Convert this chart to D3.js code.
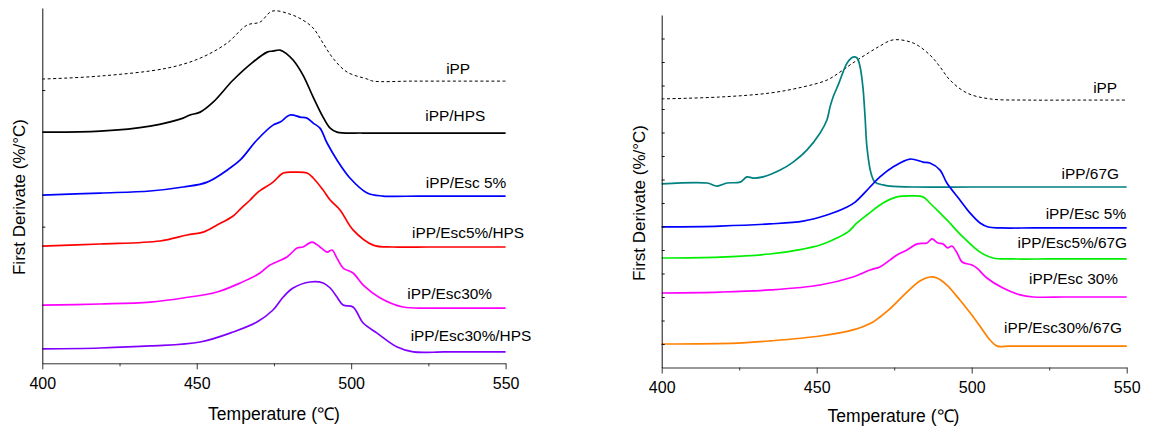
<!DOCTYPE html>
<html>
<head>
<meta charset="utf-8">
<script src="https://cdn.jsdelivr.net/npm/d3@7"></script>
<style>
  body { margin: 0; background: #fff; }
  svg { display: block; }
  text { font-family: "Liberation Sans", Arial, Helvetica, sans-serif; fill: #000; }
</style>
</head>
<body>
<svg id="chart" width="1150" height="430"></svg>
<script>
// ---- shared axis values ----
const xTickValues = [400, 450, 500, 550];
const xMinorValues = [425, 475, 525];
const xTitle = "Temperature (\u2103)";
const yTitle = "First Derivate (%/\u00B0C)";

// ---- left panel: iPP, HPS and Esc blends (DTG, curves stacked) ----
const leftNames = ["iPP", "iPP/HPS", "iPP/Esc 5%", "iPP/Esc5%/HPS", "iPP/Esc30%", "iPP/Esc30%/HPS"];
const leftYMax = 2.6;
const leftYTicks = [1, 2];

const L_iPP = [[400,2.080],[418.7,2.102],[440.4,2.160],[451.1,2.233],[459.8,2.343],[466.3,2.475],[470.5,2.497],
  [474.4,2.577],[480.2,2.555],[484.4,2.511],[487.7,2.453],[490.9,2.343],[494.1,2.233],[498.7,2.131],[505.2,2.080],
  [507.1,2.065],[520,2.065],[535,2.065],[550,2.065]];
const L_HPS = [[400,1.692],[418.7,1.699],[434.9,1.736],[445.6,1.794],[447.8,1.817],[451.1,1.838],[455.3,1.911],
  [461.8,2.073],[468.2,2.204],[472.8,2.277],[474.7,2.285],[477.0,2.292],[479.2,2.263],[481.2,2.219],[484.4,2.109],
  [487.7,1.948],[490.9,1.802],[493.2,1.721],[495.4,1.692],[503.9,1.685],[520,1.685],[535,1.685],[550,1.685]];
const L_Esc5 = [[400,1.231],[418.7,1.246],[434.9,1.261],[445.6,1.290],[453.4,1.326],[460.8,1.429],[464.1,1.488],
  [469.5,1.634],[474.7,1.743],[477.0,1.765],[480.2,1.817],[483.5,1.802],[485.7,1.794],[487.7,1.758],[489.9,1.721],
  [492.2,1.612],[495.4,1.488],[499.6,1.356],[505.2,1.246],[510.3,1.224],[522,1.224],[536,1.224],[550,1.224]];
const L_Esc5HPS = [[400,0.858],[418.7,0.873],[438.1,0.895],[446.9,0.939],[452.1,0.960],[456.6,1.012],[461.8,1.078],
  [464.1,1.129],[467.3,1.195],[469.5,1.246],[474.7,1.326],[478.0,1.392],[481.8,1.399],[485.7,1.392],[487.7,1.356],
  [490.9,1.268],[493.2,1.195],[496.4,1.122],[500.6,0.976],[507.1,0.865],[513.6,0.851],[525,0.851],[538,0.851],[550,0.851]];
const L_Esc30 = [[400,0.426],[418.7,0.434],[434.9,0.448],[445.6,0.478],[456.6,0.522],[464.1,0.588],[470.5,0.661],
  [473.7,0.719],[479.2,0.778],[482.5,0.843],[484.4,0.851],[487.3,0.887],[489.9,0.851],[492.2,0.814],[493.8,0.829],
  [495.4,0.770],[497.4,0.697],[500.6,0.661],[503.9,0.572],[509.4,0.478],[516.8,0.412],[526,0.404],[538,0.404],[550,0.404]];
const L_Esc30HPS = [[400,0.105],[418.7,0.112],[434.9,0.127],[451.1,0.156],[461.8,0.229],[469.5,0.302],[474.7,0.390],
  [478.0,0.485],[481.2,0.551],[486.7,0.595],[490.9,0.588],[493.2,0.551],[495.4,0.485],[497.4,0.426],[500.6,0.412],
  [503.9,0.295],[508.4,0.221],[514.9,0.119],[520.1,0.083],[530,0.083],[540,0.083],[550,0.083]];
const leftSeries = [L_iPP, L_HPS, L_Esc5, L_Esc5HPS, L_Esc30, L_Esc30HPS];

// ---- right panel: iPP, 67G and Esc blends ----
const rightNames = ["iPP", "iPP/67G", "iPP/Esc 5%", "iPP/Esc5%/67G", "iPP/Esc 30%", "iPP/Esc30%/67G"];
const rightYMax = 15;
const rightYTicks = d3.range(1, 15);

const R_iPP = [[400,11.43],[418.8,11.51],[434.9,11.68],[445.6,11.94],[453.3,12.23],[457.5,12.57],[461.7,12.96],
  [468.2,13.51],[470.4,13.68],[474.6,13.94],[481.1,13.81],[486.5,13.30],[489.8,12.79],[493.0,12.23],[498.5,11.68],
  [505.9,11.43],[518,11.38],[534,11.38],[550,11.38]];
const R_67G = [[400,7.81],[414.6,7.85],[417.8,7.72],[421.1,7.85],[425.3,7.89],[427.5,8.11],[429.5,8.06],[432.7,8.11],
  [438.2,8.40],[442.4,8.74],[446.9,9.26],[451.1,9.98],[453.3,10.53],[454.3,11.09],[455.3,11.51],[457.2,12.11],
  [458.5,12.57],[459.8,12.96],[461.7,13.21],[463.0,13.17],[464.0,12.79],[464.9,11.94],[465.6,10.66],[466.2,9.39],
  [467.5,8.28],[468.8,7.89],[471.4,7.77],[473.6,7.72],[481.1,7.68],[500,7.68],[525,7.68],[550,7.68]];
const R_Esc5 = [[400,5.98],[418.8,6.02],[434.9,6.11],[445.6,6.23],[453.3,6.49],[459.8,6.83],[462.4,7.04],[467.2,7.68],
  [470.4,8.11],[474.6,8.53],[480.1,8.87],[484.3,8.74],[486.5,8.70],[489.8,8.40],[492.0,7.85],[496.2,7.13],
  [499.5,6.57],[502.7,6.15],[505.3,5.98],[509.1,5.94],[520,5.94],[535,5.94],[550,5.94]];
const R_Esc5_67G = [[400,4.66],[418.8,4.70],[434.9,4.83],[445.6,5.04],[451.1,5.21],[456.5,5.51],[460.1,5.77],
  [463.0,6.15],[466.2,6.49],[471.4,7.00],[475.9,7.26],[481.1,7.30],[484.3,7.26],[486.5,7.00],[489.8,6.57],
  [492.0,6.28],[497.2,5.55],[502.7,4.91],[506.9,4.66],[513.3,4.62],[525,4.62],[538,4.62],[550,4.62]];
const R_Esc30 = [[400,3.17],[418.8,3.21],[434.9,3.30],[451.1,3.51],[461.7,3.85],[467.2,4.15],[470.4,4.28],[473.6,4.57],
  [475.9,4.79],[479.1,5.00],[482.4,5.26],[485.6,5.30],[487.2,5.47],[489.1,5.30],[490.7,5.26],[492.3,5.09],[493.6,5.17],
  [495.3,4.87],[496.9,4.49],[500.1,4.36],[501.7,4.23],[504.9,3.81],[510.1,3.38],[515.6,3.09],[519.8,3.00],
  [530,3.00],[540,3.00],[550,3.00]];
const R_Esc30_67G = [[400,1.00],[424.3,1.04],[434.9,1.13],[451.1,1.34],[461.7,1.60],[468.2,1.94],[470.4,2.15],
  [473.6,2.49],[479.1,3.21],[483.3,3.68],[486.5,3.85],[488.8,3.81],[492.0,3.51],[496.2,2.87],[501.7,1.94],
  [505.9,1.17],[508.2,0.91],[512,0.91],[520,0.91],[535,0.91],[550,0.91]];
const rightSeries = [R_iPP, R_67G, R_Esc5, R_Esc5_67G, R_Esc30, R_Esc30_67G];

// ---- layout and styling ----
const panels = [
  {
    names: leftNames, series: leftSeries, yMax: leftYMax, yTicks: leftYTicks,
    xRange: [42.3, 505.6], yRange: [363.3, 8],
    colors: ["#000000", "#000000", "#0000ff", "#ff0000", "#ff00ff", "#8000ff"],
    // right edge (temperature) and baseline (value) of each curve's label
    labelAt: [[538.5, 2.12], [543.4, 1.77], [550.2, 1.28], [556.0, 0.92], [545.6, 0.47], [558.3, 0.16]],
    yTitleX: 19, yTitleY: 197, xTitleX: 274, xTitleY: 420
  },
  {
    names: rightNames, series: rightSeries, yMax: rightYMax, yTicks: rightYTicks,
    xRange: [661.7, 1126.7], yRange: [367.5, 15],
    colors: ["#000000", "#008080", "#0000ff", "#00ee00", "#ff00ff", "#ff8000"],
    labelAt: [[546.9, 11.66], [547.5, 8.02], [549.8, 6.30], [550.1, 5.07], [547.2, 3.56], [548.5, 1.47]],
    yTitleX: 639, yTitleY: 203, xTitleX: 893.5, xTitleY: 422
  }
];

const svg = d3.select("#chart");

panels.forEach(p => {
  const x = d3.scaleLinear().domain([400, 550]).range(p.xRange);
  const y = d3.scaleLinear().domain([0, p.yMax]).range(p.yRange);
  const g = svg.append("g");

  // curves
  const line = d3.line().x(d => x(d[0])).y(d => y(d[1])).curve(d3.curveCatmullRom.alpha(0.5));
  p.series.forEach((s, i) => {
    const path = g.append("path")
      .datum(s)
      .attr("d", line)
      .attr("fill", "none")
      .attr("stroke", p.colors[i])
      .attr("stroke-linejoin", "round");
    if (i === 0) {
      path.attr("stroke-width", 1).attr("stroke-dasharray", "3,2.5");
    } else {
      path.attr("stroke-width", 1.7);
    }
  });

  // curve labels
  p.names.forEach((name, i) => {
    g.append("text")
      .attr("x", x(p.labelAt[i][0]))
      .attr("y", y(p.labelAt[i][1]))
      .attr("text-anchor", "end")
      .style("font-size", "15.4px")
      .text(name);
  });

  // x axis: major ticks with labels, minor ticks without
  const xAxis = g.append("g")
    .attr("transform", `translate(0,${p.yRange[0]})`)
    .call(d3.axisBottom(x).tickValues(xTickValues).tickSize(6).tickSizeOuter(0).tickPadding(8).tickFormat(d3.format("d")));
  xAxis.selectAll("text").style("font-size", "16px").attr("fill", "#000");
  xAxis.select(".domain").attr("stroke", "#333");
  xAxis.selectAll(".tick line").attr("stroke", "#333");
  const xMinor = g.append("g")
    .attr("transform", `translate(0,${p.yRange[0]})`)
    .call(d3.axisBottom(x).tickValues(xMinorValues).tickSize(3).tickFormat(""));
  xMinor.select(".domain").remove();
  xMinor.selectAll(".tick line").attr("stroke", "#333");

  // y axis: inward ticks, no labels
  const yAxis = g.append("g")
    .attr("transform", `translate(${p.xRange[0]},0)`)
    .call(d3.axisRight(y).tickValues(p.yTicks).tickSize(3).tickSizeOuter(0).tickFormat(""));
  yAxis.select(".domain").attr("stroke", "#111");
  yAxis.selectAll(".tick line").attr("stroke", "#111");

  // axis titles
  g.append("text")
    .attr("x", p.xTitleX)
    .attr("y", p.xTitleY)
    .attr("text-anchor", "middle")
    .style("font-size", "17.5px")
    .text(xTitle);
  g.append("text")
    .attr("transform", `translate(${p.yTitleX},${p.yTitleY}) rotate(-90)`)
    .attr("text-anchor", "middle")
    .attr("dominant-baseline", "central")
    .style("font-size", "17px")
    .text(yTitle);
});
</script>
</body>
</html>
